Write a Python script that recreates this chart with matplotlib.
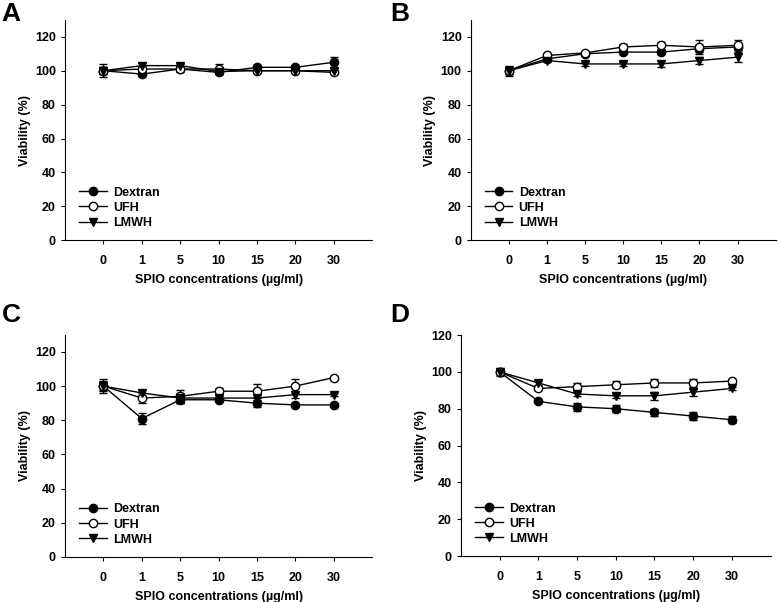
import numpy as np
import matplotlib
matplotlib.use("Agg")
import matplotlib.pyplot as plt

plt.rcParams['font.family'] = ['Liberation Sans', 'DejaVu Sans']
plt.rcParams['font.weight'] = 'bold'

conc = ['0', '1', '5', '10', '15', '20', '30']
series = ['Dextran', 'UFH', 'LMWH']

# panel A
a_dex = [100, 98, 101, 99, 102, 102, 105]
a_dex_err = [4, 1, 1, 1, 1.5, 1.5, 3]
a_ufh = [100, 101, 101, 101, 100, 100, 99]
a_ufh_err = [2, 1, 2, 3, 1, 1, 1]
a_lmwh = [100, 103, 103, 99.5, 100, 100, 100]
a_lmwh_err = [2, 1.5, 1, 1.5, 1, 1, 1.5]

# panel B
b_dex = [100, 107, 110, 111, 111, 113, 114]
b_dex_err = [2, 1, 1, 1, 1, 2, 2]
b_ufh = [100, 109, 110.5, 114, 115, 114, 115]
b_ufh_err = [3, 1, 1, 2, 2, 4, 3]
b_lmwh = [100, 106, 104, 104, 104, 106, 108]
b_lmwh_err = [2, 1, 1, 1, 2, 2, 3]

# panel C
c_dex = [100, 81, 92, 92, 90, 89, 89]
c_dex_err = [2, 3, 2, 1, 2, 1, 1]
c_ufh = [100, 93, 94, 97, 97, 100, 105]
c_ufh_err = [4, 3, 4, 2, 4, 4, 1]
c_lmwh = [100, 96, 93, 93, 93, 95, 95]
c_lmwh_err = [3, 2, 3, 1, 2, 2, 1]

# panel D
d_dex = [100, 84, 81, 80, 78, 76, 74]
d_dex_err = [2, 1, 2, 2, 2, 2, 2]
d_ufh = [100, 91, 92, 93, 94, 94, 95]
d_ufh_err = [1, 1, 2, 2, 2, 2, 1]
d_lmwh = [100, 94, 88, 87, 87, 89, 91]
d_lmwh_err = [1, 1, 1, 1, 2, 2, 1]

panels = [
    ('A', [a_dex, a_ufh, a_lmwh], [a_dex_err, a_ufh_err, a_lmwh_err], 130, [0.0835, 0.601, 0.395, 0.366]),
    ('B', [b_dex, b_ufh, b_lmwh], [b_dex_err, b_ufh_err, b_lmwh_err], 130, [0.605, 0.601, 0.392, 0.366]),
    ('C', [c_dex, c_ufh, c_lmwh], [c_dex_err, c_ufh_err, c_lmwh_err], 130, [0.0835, 0.0748, 0.395, 0.369]),
    ('D', [d_dex, d_ufh, d_lmwh], [d_dex_err, d_ufh_err, d_lmwh_err], 120, [0.5925, 0.0764, 0.398, 0.367]),
]
letter_pos = {'A': (0.002, 0.997), 'B': (0.502, 0.997), 'C': (0.002, 0.497), 'D': (0.502, 0.497)}

markers = ['o', 'o', 'v']
faces = ['black', 'white', 'black']

fig = plt.figure(figsize=(7.78, 6.02), dpi=100)
x = np.arange(len(conc))

for name, vals, errs, ytop, rect in panels:
    ax = fig.add_axes(rect)
    handles = []
    for i in range(3):
        c = ax.errorbar(x, vals[i], yerr=errs[i], color='black', lw=1, marker=markers[i],
                        mfc=faces[i], mec='black', ms=6, mew=1, capsize=3, elinewidth=1,
                        label=series[i])
        handles.append(c[0])
    ax.set_xlim(-1, 7)
    ax.set_ylim(0, ytop)
    ax.set_yticks(np.arange(0, 121, 20))
    ax.set_xticks(x)
    ax.set_xticklabels(conc)
    ax.spines['top'].set_visible(False)
    ax.spines['right'].set_visible(False)
    ax.tick_params(axis='both', labelsize=9, length=3, width=0.8, direction='out')
    ax.tick_params(axis='x', pad=8)
    ax.set_xlabel('SPIO concentrations (µg/ml)', fontsize=9, fontweight='bold', labelpad=5)
    ax.set_ylabel('Viability (%)', fontsize=9, fontweight='bold', labelpad=3)
    for lbl in ax.get_xticklabels() + ax.get_yticklabels():
        lbl.set_fontweight('bold')
    ax.legend(handles=handles, labels=series, loc='lower left', bbox_to_anchor=(0.01, 0.0),
              frameon=False, fontsize=9, handlelength=2.2, labelspacing=0.25, handletextpad=0.5)
    lx, ly = letter_pos[name]
    fig.text(lx, ly, name, fontsize=19, fontweight='bold', va='top', ha='left')

fig.savefig('out.png', dpi=100)
